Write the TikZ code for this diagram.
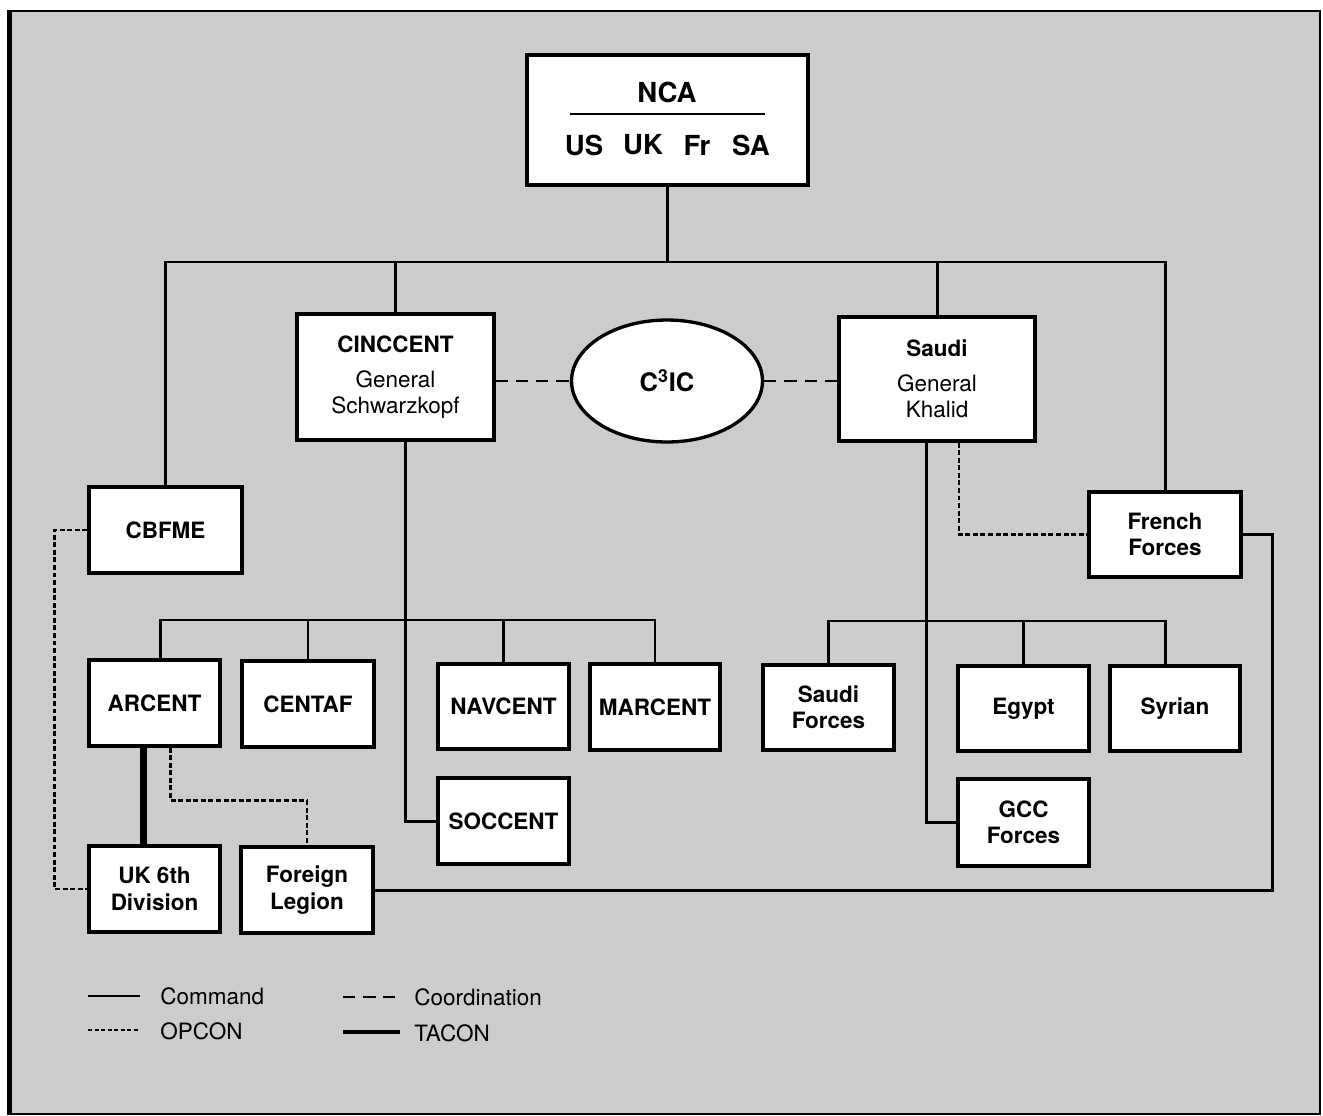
\documentclass[tikz,border=0pt]{standalone}
\usepackage{fontspec}
\setmainfont{TeX Gyre Heros}
\usetikzlibrary{fit,shapes.geometric,calc}
\newcommand\mylblfont{\fontsize{12.8}{15}\selectfont}
\newcommand\mybigfont{\fontsize{15.7}{18}\selectfont\bfseries}
\begin{document}
\begin{tikzpicture}[x=0.02cm,y=-0.02cm,
  box/.style={draw, line width=1.9pt, fill=white, inner sep=0pt},
  lbl/.style={font=\mylblfont, align=center},
  blbl/.style={font=\mylblfont\bfseries, align=center},
  cmd/.style={line width=1.7pt},
  opcon/.style={line width=1.4pt, dash pattern=on 2.8pt off 1.5pt},
  coord/.style={line width=1.5pt, dash pattern=on 7pt off 4.5pt},
  tacon/.style={line width=3.6pt},
  legtxt/.style={font=\mylblfont, anchor=west, inner sep=0pt}]
\useasboundingbox (0,0) rectangle (1323,1116);
\fill[white] (0,0) rectangle (1323,1116);
\filldraw[fill=black!20, draw=black, line width=1.5pt] (9.5,11) rectangle (1320,1114);
\draw[line width=2.5pt] (9.5,10) -- (9.5,1115);

% NCA
\node[box, fit={(527,55) (808,185)}] (nca) {};
\node[font=\mybigfont] (ncat) at (667,92) {NCA};
\draw[line width=1.2pt] (570,114) -- (765,114);
\node[font=\mybigfont] (ncaus) at (584,145) {US};
\node[font=\mybigfont] (ncauk) at (643,145) {UK};
\node[font=\mybigfont] (ncafr) at (697,145) {Fr};
\node[font=\mybigfont] (ncasa) at (751,145) {SA};

% second level
\node[box, fit={(297,314) (494,440)}, label={[lbl]center:{\bfseries CINCCENT}\\[5pt]General\\Schwarzkopf}] (cinc) {};
\node[draw, ellipse, line width=1.9pt, fill=white, minimum width=3.82cm, minimum height=2.44cm, inner sep=0pt, font=\fontsize{14.5}{17}\selectfont\bfseries] (c3ic) at (667,381) {C\textsuperscript{3}IC};
\node[box, fit={(839,317) (1035,441)}, label={[lbl]center:{\bfseries Saudi}\\[5pt]General\\Khalid}] (saudi) {};
\node[box, fit={(89,487) (242,573)}, label={[blbl]center:CBFME}] (cbfme) {};
\node[box, fit={(1089,492) (1241,577)}, label={[blbl]center:French\\Forces}] (french) {};

% left group
\node[box, fit={(89,660) (220,746)}, label={[blbl]center:ARCENT}] (arcent) {};
\node[box, fit={(242,661) (374,747)}, label={[blbl]center:CENTAF}] (centaf) {};
\node[box, fit={(438,664) (569,749)}, label={[blbl]center:NAVCENT}] (navcent) {};
\node[box, fit={(590,664) (720,750)}, label={[blbl]center:MARCENT}] (marcent) {};
\node[box, fit={(438,778) (569,864)}, label={[blbl]center:SOCCENT}] (soccent) {};
\node[box, fit={(89,846) (220,932)}, label={[blbl]center:UK 6th\\Division}] (ukdiv) {};
\node[box, fit={(241,847) (373,933)}, label={[blbl]center:Foreign\\Legion}] (legion) {};

% right group
\node[box, fit={(763,665) (894,750)}, label={[blbl]center:Saudi\\Forces}] (saudif) {};
\node[box, fit={(958,666) (1089,751)}, label={[blbl]center:Egypt}] (egypt) {};
\node[box, fit={(1110,666) (1240,751)}, label={[blbl]center:Syrian}] (syrian) {};
\node[box, fit={(958,779) (1089,866)}, label={[blbl]center:GCC\\Forces}] (gcc) {};

% top bus
\coordinate (busT) at (0,262);
\draw[cmd] (nca.south) -- (nca.south |- busT);
\draw[cmd] (cbfme.north) -- (cbfme.north |- busT) -- (french.north |- busT) -- (french.north);
\draw[cmd] (cinc.north) -- (cinc.north |- busT);
\draw[cmd] (saudi.north) -- (saudi.north |- busT);

% coordination
\draw[coord] (cinc.east |- c3ic.west) -- (c3ic.west);
\draw[coord] (c3ic.east) -- (saudi.west |- c3ic.east);

% CINCCENT subtree
\coordinate (busA) at (0,620);
\draw[cmd] ($(cinc.south)+(10,0)$) |- (soccent.west);
\draw[cmd] ($(arcent.north)+(6,0)$) |- (marcent.north |- busA) -- (marcent.north);
\draw[cmd] (centaf.north) -- (centaf.north |- busA);
\draw[cmd] (navcent.north) -- (navcent.north |- busA);

% Saudi subtree
\coordinate (busB) at (0,621);
\draw[cmd] ($(saudi.south)+(-11,0)$) |- (gcc.west);
\draw[cmd] (saudif.north) |- ($(syrian.north |- busB)+(-10,0)$) -- ($(syrian.north)+(-10,0)$);
\draw[cmd] (egypt.north) -- (egypt.north |- busB);
\draw[opcon] ($(saudi.south)+(22,0)$) |- (french.west);

% French to Foreign Legion
\coordinate (rc) at (1272,700);
\draw[cmd] (french.east) -| (rc) |- (legion.east);

% ARCENT relations
\draw[tacon] ($(arcent.south)+(-11,0)$) -- ($(ukdiv.north)+(-11,0)$);
\draw[opcon] ($(arcent.south)+(16,0)$) |- ($(legion.north)+(0,-45)$) -- (legion.north);
\draw[opcon] (cbfme.west) -- ++(-33,0) |- (ukdiv.west);

% legend
\coordinate (lg1a) at (88,996); \coordinate (lg1b) at (140,996);
\draw[line width=1.2pt] (lg1a) -- (lg1b);
\node[legtxt] (lgcmd) at (160,996) {Command};
\coordinate (lg2a) at (88,1030); \coordinate (lg2b) at (140,1030);
\draw[line width=1.2pt, dash pattern=on 2.4pt off 1.3pt] (lg2a) -- (lg2b);
\node[legtxt] (lgop) at (160,1031) {OPCON};
\coordinate (lg3a) at (343,997); \coordinate (lg3b) at (395,997);
\draw[coord] (lg3a) -- (lg3b);
\node[legtxt] (lgco) at (414,997) {Coordination};
\coordinate (lg4a) at (343,1032); \coordinate (lg4b) at (400,1032);
\draw[line width=2.8pt] (lg4a) -- (lg4b);
\node[legtxt] (lgta) at (414,1033) {TACON};
\end{tikzpicture}
\end{document}
